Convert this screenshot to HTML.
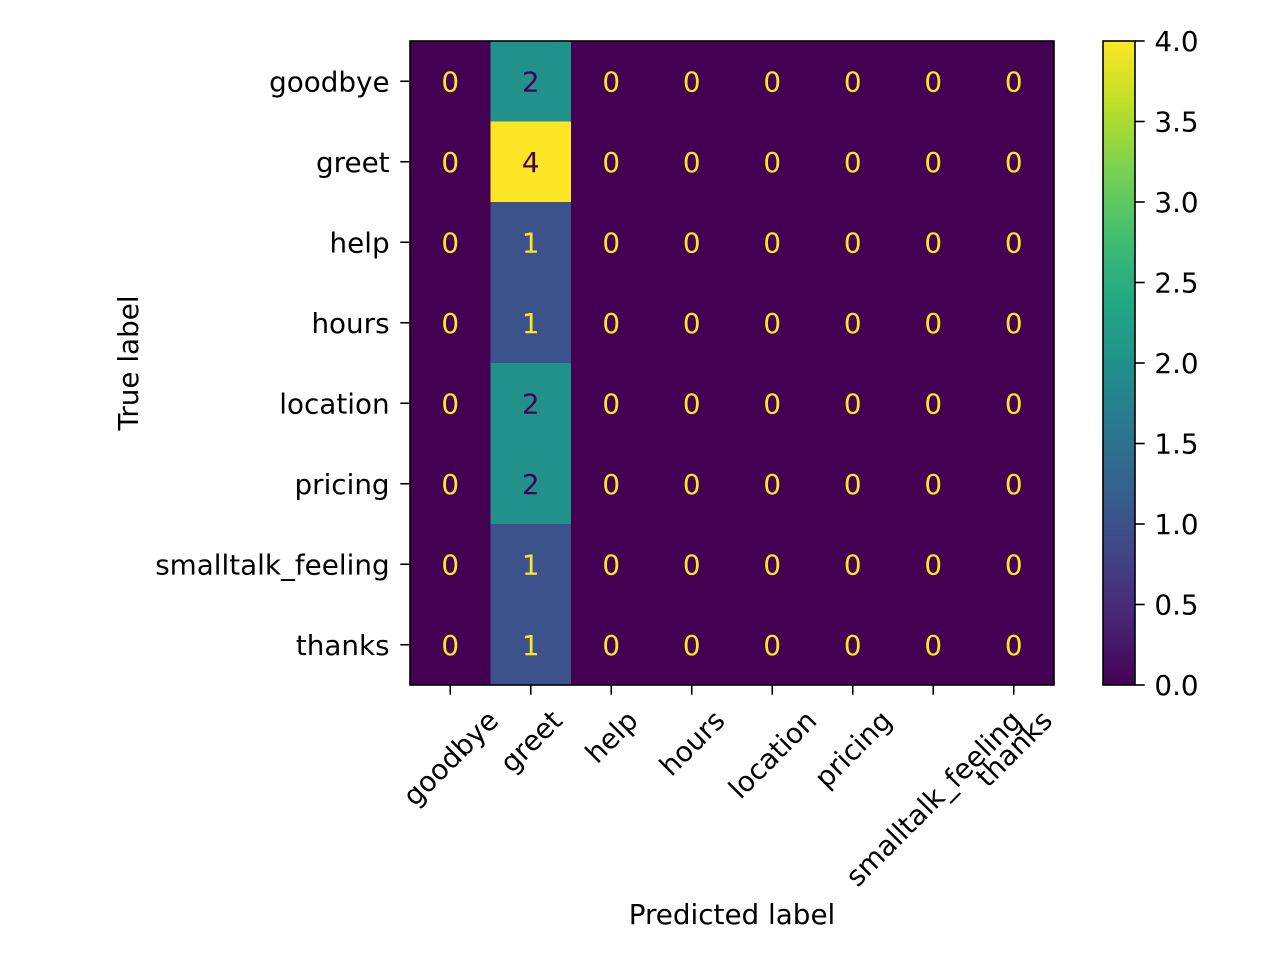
<!DOCTYPE html>
<html><head><meta charset="utf-8"><style>
html,body{margin:0;padding:0;background:#fff;}
svg text{font-family:"DejaVu Sans","Liberation Sans",sans-serif;}
</style></head><body>
<svg id="chart" width="1280" height="960" viewBox="0 0 1280 960">
<defs>
<linearGradient id="vir" x1="0" y1="1" x2="0" y2="0">
<stop offset="0" stop-color="#440154"/><stop offset="0.1" stop-color="#482475"/><stop offset="0.2" stop-color="#414487"/><stop offset="0.3" stop-color="#355f8d"/><stop offset="0.4" stop-color="#2a788e"/><stop offset="0.5" stop-color="#21918c"/><stop offset="0.6" stop-color="#22a884"/><stop offset="0.7" stop-color="#44bf70"/><stop offset="0.8" stop-color="#7ad151"/><stop offset="0.9" stop-color="#bddf26"/><stop offset="1" stop-color="#fde725"/>
</linearGradient>
</defs>
<g id="cells"></g>
<g id="axes"></g>
</svg>
<script>
const labels = ["goodbye","greet","help","hours","location","pricing","smalltalk_feeling","thanks"];
const matrix = [
[0,2,0,0,0,0,0,0],
[0,4,0,0,0,0,0,0],
[0,1,0,0,0,0,0,0],
[0,1,0,0,0,0,0,0],
[0,2,0,0,0,0,0,0],
[0,2,0,0,0,0,0,0],
[0,1,0,0,0,0,0,0],
[0,1,0,0,0,0,0,0]];
const cbTicks = [0,0.5,1,1.5,2,2.5,3,3.5,4];

const NS="http://www.w3.org/2000/svg";
const L=410,T=41,R=1054,B=685;
const FS=27.8, TL=9.7;
const n=labels.length;
const vmin=0,vmax=Math.max(...matrix.flat());
const cw=(R-L)/n, ch=(B-T)/n;
const xPos=i=>L+cw*(i+0.5), yPos=i=>T+ch*(i+0.5);
const stops=[[68,1,84],[72,36,117],[65,68,135],[53,95,141],[42,120,142],[33,145,140],[34,168,132],[68,191,112],[122,209,81],[189,223,38],[253,231,37]];
function vir(t){t=Math.max(0,Math.min(1,t))*10;const i=Math.min(9,Math.floor(t)),f=t-i;const a=stops[i],b=stops[i+1];return `rgb(${a.map((v,k)=>Math.round(v+(b[k]-v)*f)).join(',')})`;}
function el(tag,attrs,parent){const e=document.createElementNS(NS,tag);for(const k in attrs)e.setAttribute(k,attrs[k]);parent.appendChild(e);return e;}
const cells=document.getElementById('cells'),axes=document.getElementById('axes');
const thresh=(vmax+vmin)/2;
const DY=FS*0.36;
matrix.forEach((row,r)=>row.forEach((v,c)=>{
 const rect=el('rect',{x:L+cw*c,y:T+ch*r,width:cw+0.5,height:ch+0.5,fill:vir((v-vmin)/(vmax-vmin))},cells);
 
 
 const t=el('text',{x:xPos(c),y:yPos(r)+DY,'text-anchor':'middle','font-size':FS,fill:v<thresh?'#fde725':'#440154'},cells);
 t.textContent=v;
 
 
}));
el('rect',{x:L,y:T,width:R-L,height:B-T,fill:'none',stroke:'#000','stroke-width':1.6},axes);
labels.forEach((lab,i)=>{
 el('line',{x1:L,x2:L-TL,y1:yPos(i),y2:yPos(i),stroke:'#000','stroke-width':1.6},axes);
 const yt=el('text',{x:L-2*TL-1,y:yPos(i)+DY,'text-anchor':'end','font-size':FS,fill:'#000'},axes);
 yt.textContent=lab;
 
 
 el('line',{x1:xPos(i),x2:xPos(i),y1:B,y2:B+TL,stroke:'#000','stroke-width':1.6},axes);
 const xt=el('text',{x:0,y:0,'text-anchor':'middle','font-size':FS,fill:'#000'},axes);
 xt.textContent=lab;
 
 
 const w=xt.getComputedTextLength(),h=FS*1.1;
 const bh=(w+h)*0.7071;
 const cy=B+2*TL+bh/2;
 xt.setAttribute('transform',`translate(${xPos(i)},${cy}) rotate(-45) translate(0,${DY})`);
});
const xl=el('text',{x:(L+R)/2,y:924,'text-anchor':'middle','font-size':FS,fill:'#000'},axes);
xl.textContent='Predicted label';


const yl=el('text',{x:0,y:0,'text-anchor':'middle','font-size':FS,fill:'#000',transform:`translate(138,${(T+B)/2}) rotate(-90)`},axes);
yl.textContent='True label';


const CL=1103,CR=1135;
const cb=el('rect',{x:CL,y:T,width:CR-CL,height:B-T,fill:'url(#vir)',stroke:'#000','stroke-width':1.6},axes);


cbTicks.forEach(v=>{
 const y=B-(v-vmin)/(vmax-vmin)*(B-T);
 el('line',{x1:CR,x2:CR+TL,y1:y,y2:y,stroke:'#000','stroke-width':1.6},axes);
 const t=el('text',{x:CR+2*TL,y:y+DY,'font-size':FS,fill:'#000'},axes);
 t.textContent=v.toFixed(1);
 
 
});
</script>
</body></html>
